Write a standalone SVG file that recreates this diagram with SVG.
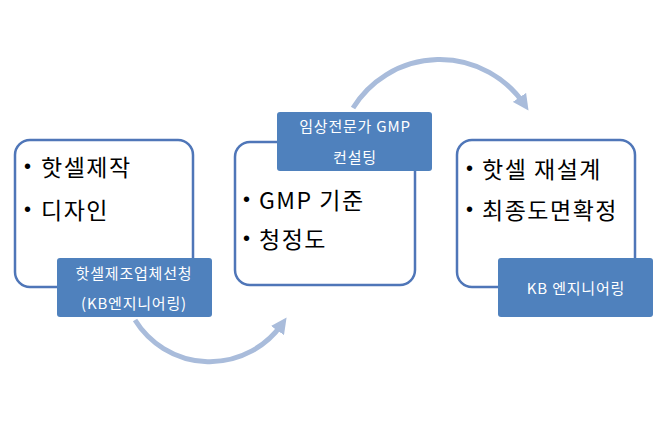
<svg xmlns="http://www.w3.org/2000/svg" width="657" height="427" viewBox="0 0 657 427">
<defs>
<style>
.card{fill:#ffffff;stroke:#4f76b8;stroke-width:2.5}
.tag{fill:#4f81bd;stroke:none}
.big{font-family:"Noto Sans CJK KR","Noto Sans",sans-serif;font-size:23px;fill:#000;letter-spacing:1.5px}
.bul{font-family:"Liberation Sans",sans-serif;font-size:20px;fill:#000}
.lbl{font-family:"Noto Sans CJK KR","Noto Sans",sans-serif;font-size:15px;fill:#ffffff;text-anchor:middle;letter-spacing:0.8px}
.arc{fill:none;stroke:#a9bcdb;stroke-width:5}
</style>
<marker id="ah" viewBox="0 0 10 10" refX="5" refY="5" markerWidth="3.2" markerHeight="3.2" orient="auto" markerUnits="strokeWidth">
<path d="M0,0 L10,5 L0,10 z" fill="#a9bcdb"/>
</marker>
</defs>
<rect width="657" height="427" fill="#ffffff"/>
<g id="connectors">
<path class="arc" d="M135,320 A88,88 0 0 0 282,324" marker-end="url(#ah)"/>
<path class="arc" d="M353,108 A102,102 0 0 1 524,104" marker-end="url(#ah)"/>
</g>
<g id="node1">
<rect class="card" x="15" y="140" width="178" height="147" rx="15"/>
<text class="bul" x="24" y="173">•</text>
<text class="big" x="41" y="176">핫셀제작</text>
<text class="bul" x="24" y="216">•</text>
<text class="big" x="41" y="219">디자인</text>
<rect class="tag" x="57" y="258" width="155" height="59" rx="3"/>
<text class="lbl" x="134" y="279">핫셀제조업체선청</text>
<text class="lbl" x="134" y="309">(KB엔지니어링)</text>
</g>
<g id="node2">
<rect class="card" x="235" y="142" width="180" height="143" rx="15"/>
<text class="bul" x="243" y="206">•</text>
<text class="big" x="259" y="209">GMP 기준</text>
<text class="bul" x="243" y="245">•</text>
<text class="big" x="259" y="248">청정도</text>
<rect class="tag" x="277" y="112" width="155" height="59" rx="3"/>
<text class="lbl" x="355" y="132">임상전문가 GMP</text>
<text class="lbl" x="355" y="163">컨설팅</text>
</g>
<g id="node3">
<rect class="card" x="457" y="140" width="178" height="147" rx="15"/>
<text class="bul" x="466" y="175">•</text>
<text class="big" x="482" y="178">핫셀 재설계</text>
<text class="bul" x="466" y="216">•</text>
<text class="big" x="482" y="219">최종도면확정</text>
<rect class="tag" x="498" y="258" width="155" height="59" rx="3"/>
<text class="lbl" x="576" y="294">KB 엔지니어링</text>
</g>
</svg>
